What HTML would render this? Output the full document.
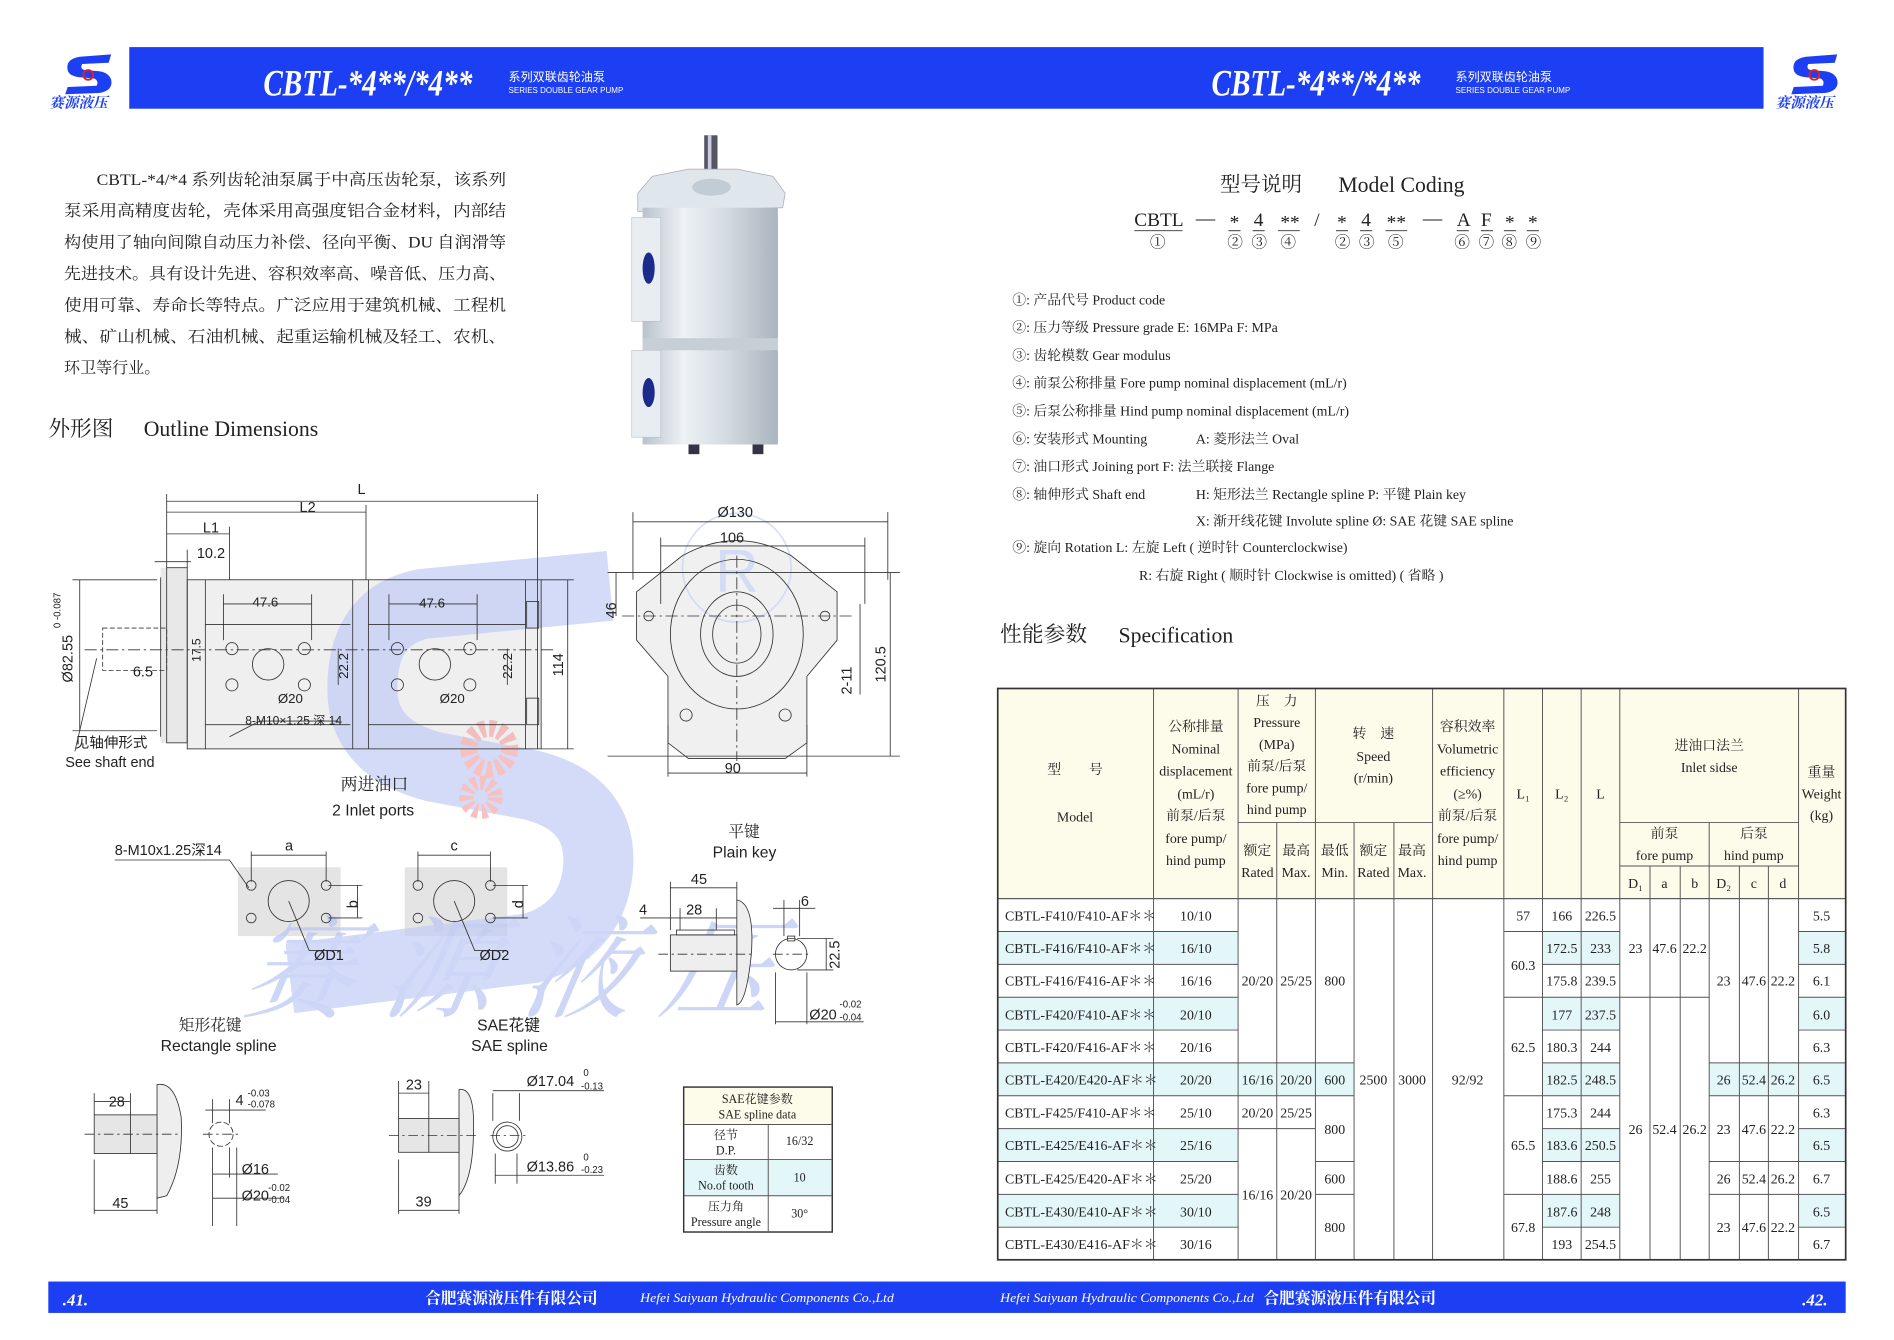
<!DOCTYPE html>
<html><head><meta charset="utf-8"><style>
html,body{margin:0;padding:0;background:#fff}
svg{display:block}
.t{font-family:"Liberation Serif","Noto Serif CJK SC",serif;fill:#222}
.s{font-family:"Liberation Sans","Noto Sans CJK SC",sans-serif;fill:#222}
.d{stroke:#333;stroke-width:.7;fill:none}
.tb text{font-family:"Liberation Serif","Noto Serif CJK SC",serif;font-size:11.5px;fill:#222;text-anchor:middle}
.tb rect{stroke:#555;stroke-width:.8}
</style></head><body>
<svg width="1894" height="1340" viewBox="0 0 1568 1109.4" preserveAspectRatio="none" xmlns="http://www.w3.org/2000/svg">
<defs>
<linearGradient id="pg" x1="0" x2="1"><stop offset="0" stop-color="#b8c2cc"/><stop offset=".3" stop-color="#eef2f5"/><stop offset=".6" stop-color="#d5dce2"/><stop offset="1" stop-color="#aab4be"/></linearGradient>
</defs>
<rect x="107" y="39" width="1353" height="51" fill="#1d3ff3"/>
<g font-family="Liberation Serif,serif" font-style="italic" font-weight="bold" font-size="31" fill="#fff">
<text x="218" y="79" textLength="173" lengthAdjust="spacingAndGlyphs">CBTL-*4**/*4**</text>
<text x="1003" y="79" textLength="173" lengthAdjust="spacingAndGlyphs">CBTL-*4**/*4**</text>
</g>
<g font-family="Liberation Sans,Noto Sans CJK SC,sans-serif" fill="#fff">
<text x="421" y="67" font-size="10">系列双联齿轮油泵</text><text x="421" y="77" font-size="7" textLength="95" lengthAdjust="spacingAndGlyphs">SERIES DOUBLE GEAR PUMP</text>
<text x="1205" y="67" font-size="10">系列双联齿轮油泵</text><text x="1205" y="77" font-size="7" textLength="95" lengthAdjust="spacingAndGlyphs">SERIES DOUBLE GEAR PUMP</text>
</g>
<g id="lg">
<path d="M92 45 L66 47 Q54 49 56 58 Q57 63 66 64 L78 65 Q82 67 80 71 L56 72 L54 78 L82 77 Q94 75 92 66 Q90 60 82 59 L70 58 Q66 57 68 53 L90 52 Z" fill="#1d3ff3"/>
<circle cx="73" cy="62" r="4" fill="none" stroke="#e02020" stroke-width="1.6"/>
<text x="41" y="89" font-size="12" fill="#1d3ff3" font-family="Noto Serif CJK SC,serif" font-style="italic" font-weight="bold">赛源液压</text>
</g>
<use href="#lg" x="1429"/>
<rect x="40" y="1061" width="1488" height="26" fill="#1d3ff3"/>
<g fill="#fff" font-family="Liberation Serif,Noto Serif CJK SC,serif">
<text x="52" y="1081" font-size="14" font-weight="bold" font-style="italic">.41.</text>
<text x="352" y="1079" font-size="13" font-weight="bold">合肥赛源液压件有限公司</text>
<text x="530" y="1078" font-size="10" font-style="italic" textLength="210" lengthAdjust="spacingAndGlyphs">Hefei Saiyuan Hydraulic Components Co.,Ltd</text>
<text x="828" y="1078" font-size="10" font-style="italic" textLength="210" lengthAdjust="spacingAndGlyphs">Hefei Saiyuan Hydraulic Components Co.,Ltd</text>
<text x="1046" y="1079" font-size="13" font-weight="bold">合肥赛源液压件有限公司</text>
<text x="1492" y="1081" font-size="14" font-weight="bold" font-style="italic">.42.</text>
</g>
<g class="t" font-size="13.3">
<text x="80" y="153" textLength="339" lengthAdjust="spacingAndGlyphs">CBTL-*4/*4 系列齿轮油泵属于中高压齿轮泵，该系列</text>
<text x="53" y="179" textLength="366" lengthAdjust="spacingAndGlyphs">泵采用高精度齿轮，壳体采用高强度铝合金材料，内部结</text>
<text x="53" y="205" textLength="366" lengthAdjust="spacingAndGlyphs">构使用了轴向间隙自动压力补偿、径向平衡、DU 自润滑等</text>
<text x="53" y="231" textLength="366" lengthAdjust="spacingAndGlyphs">先进技术。具有设计先进、容积效率高、噪音低、压力高、</text>
<text x="53" y="257" textLength="366" lengthAdjust="spacingAndGlyphs">使用可靠、寿命长等特点。广泛应用于建筑机械、工程机</text>
<text x="53" y="283" textLength="366" lengthAdjust="spacingAndGlyphs">械、矿山机械、石油机械、起重运输机械及轻工、农机、</text>
<text x="53" y="309">环卫等行业。</text>
<text x="40" y="361" font-size="18">外形图</text><text x="119" y="361" font-size="18">Outline Dimensions</text>
</g>
<g>
<rect x="583" y="112" width="11" height="45" fill="#556" /><rect x="586" y="112" width="3" height="45" fill="#ccd"/>
<path d="M528 160 L540 146 L570 140 L610 140 L640 146 L650 160 L648 172 L528 175 Z" fill="#dfe6ec" stroke="#aab" stroke-width=".6"/>
<ellipse cx="589" cy="155" rx="16" ry="7" fill="#c2ccd4"/>
<rect x="532" y="172" width="112" height="196" fill="url(#pg)"/>
<rect x="532" y="280" width="112" height="10" fill="#c6cfd6"/>
<rect x="523" y="180" width="24" height="86" fill="#e8edf1" stroke="#bbc" stroke-width=".5"/>
<rect x="523" y="290" width="24" height="72" fill="#e8edf1" stroke="#bbc" stroke-width=".5"/>
<ellipse cx="537" cy="222" rx="5" ry="13" fill="#1c2a8c"/>
<ellipse cx="537" cy="325" rx="5" ry="12" fill="#1c2a8c"/>
<rect x="570" y="368" width="9" height="8" fill="#334"/><rect x="623" y="368" width="9" height="8" fill="#334"/>
</g>
<g class="t">
<text x="1010" y="158" font-size="17">型号说明</text><text x="1108" y="159" font-size="18">Model Coding</text>
<g font-size="16">
<text x="939" y="187">CBTL</text><text x="990" y="186">—</text><text x="1018" y="189">*</text><text x="1038" y="187">4</text><text x="1060" y="189">**</text><text x="1088" y="187">/</text><text x="1107" y="189">*</text><text x="1127" y="187">4</text><text x="1148" y="189">**</text><text x="1178" y="186">—</text><text x="1206" y="187">A</text><text x="1226" y="187">F</text><text x="1246" y="189">*</text><text x="1265" y="189">*</text>
</g>
<g stroke="#333" stroke-width=".8"><line x1="939" y1="191" x2="979" y2="191"/><line x1="1017" y1="191" x2="1027" y2="191"/><line x1="1037" y1="191" x2="1047" y2="191"/><line x1="1058" y1="191" x2="1076" y2="191"/><line x1="1106" y1="191" x2="1116" y2="191"/><line x1="1126" y1="191" x2="1136" y2="191"/><line x1="1147" y1="191" x2="1165" y2="191"/><line x1="1206" y1="191" x2="1216" y2="191"/><line x1="1226" y1="191" x2="1236" y2="191"/><line x1="1245" y1="191" x2="1255" y2="191"/><line x1="1264" y1="191" x2="1274" y2="191"/></g>
<g font-size="13"><text x="952" y="205">①</text><text x="1016" y="205">②</text><text x="1036" y="205">③</text><text x="1060" y="205">④</text><text x="1105" y="205">②</text><text x="1125" y="205">③</text><text x="1149" y="205">⑤</text><text x="1204" y="205">⑥</text><text x="1224" y="205">⑦</text><text x="1243" y="205">⑧</text><text x="1263" y="205">⑨</text></g>
<g font-size="11.5">
<text x="838" y="252">①: 产品代号  Product code</text>
<text x="838" y="275">②: 压力等级  Pressure grade  E: 16MPa  F:  MPa</text>
<text x="838" y="298">③: 齿轮模数  Gear modulus</text>
<text x="838" y="321">④: 前泵公称排量  Fore pump nominal displacement (mL/r)</text>
<text x="838" y="344">⑤: 后泵公称排量  Hind pump nominal displacement (mL/r)</text>
<text x="838" y="367">⑥: 安装形式  Mounting</text><text x="990" y="367">A: 菱形法兰  Oval</text>
<text x="838" y="390">⑦: 油口形式  Joining port  F: 法兰联接  Flange</text>
<text x="838" y="413">⑧: 轴伸形式  Shaft end</text><text x="990" y="413">H: 矩形法兰  Rectangle spline  P: 平键  Plain key</text>
<text x="990" y="435">X: 渐开线花键  Involute spline     Ø: SAE 花键  SAE spline</text>
<text x="838" y="457">⑨: 旋向  Rotation  L: 左旋  Left ( 逆时针 Counterclockwise)</text>
<text x="943" y="480">R: 右旋  Right ( 顺时针 Clockwise is omitted) ( 省略 )</text>
</g>
<text x="828" y="531" font-size="18">性能参数</text><text x="926" y="532" font-size="18">Specification</text>
</g>
<g class="tb">
<rect x="826" y="570" width="702" height="174" fill="#fdfbea"/>
<g fill="#e4f7f8">
<rect x="826" y="771.2" width="199" height="27.2" style="stroke:none"/><rect x="1277" y="771.2" width="64" height="27.2" style="stroke:none"/><rect x="1489" y="771.2" width="39" height="27.2" style="stroke:none"/>
<rect x="826" y="825.6" width="199" height="27.2" style="stroke:none"/><rect x="1277" y="825.6" width="64" height="27.2" style="stroke:none"/><rect x="1489" y="825.6" width="39" height="27.2" style="stroke:none"/>
<rect x="826" y="880" width="295" height="27.2" style="stroke:none"/><rect x="1277" y="880" width="64" height="27.2" style="stroke:none"/><rect x="1415" y="880" width="113" height="27.2" style="stroke:none"/>
<rect x="826" y="934.4" width="199" height="27.2" style="stroke:none"/><rect x="1277" y="934.4" width="64" height="27.2" style="stroke:none"/><rect x="1489" y="934.4" width="39" height="27.2" style="stroke:none"/>
<rect x="826" y="988.8" width="199" height="27.2" style="stroke:none"/><rect x="1277" y="988.8" width="64" height="27.2" style="stroke:none"/><rect x="1489" y="988.8" width="39" height="27.2" style="stroke:none"/>
</g>
<g stroke="#555" stroke-width=".8">
<path d="M826 744H1528 M826 771.2H1025 M826 798.4H1025 M826 825.6H1025 M826 852.8H1025 M826 880H1025 M826 907.2H1025 M826 934.4H1025 M826 961.6H1025 M826 988.8H1025 M826 1016H1025
M1277 771.2H1341 M1277 798.4H1341 M1277 825.6H1341 M1277 852.8H1341 M1277 880H1341 M1277 907.2H1341 M1277 934.4H1341 M1277 961.6H1341 M1277 988.8H1341 M1277 1016H1341
M1489 771.2H1528 M1489 798.4H1528 M1489 825.6H1528 M1489 852.8H1528 M1489 880H1528 M1489 907.2H1528 M1489 934.4H1528 M1489 961.6H1528 M1489 988.8H1528 M1489 1016H1528
M1025 880H1121 M1025 907.2H1121 M1025 934.4H1089 M1089 961.6H1121 M1089 988.8H1121
M1245 771.2H1277 M1245 825.6H1277 M1245 907.2H1277 M1245 988.8H1277
M1341 825.6H1415 M1415 880H1489 M1415 907.2H1489 M1415 961.6H1489 M1415 988.8H1489
M1025 681H1186 M1341 681H1489 M1341 717H1489"/>
<path d="M955 570V1043 M1025 570V1043 M1057 681V1043 M1089 570V1043 M1121 681V1043 M1154 681V1043 M1186 570V1043 M1245 570V1043 M1277 570V1043 M1309 570V1043 M1341 570V1043 M1366 717V1043 M1391 717V1043 M1415 681V1043 M1440 717V1043 M1464 717V1043 M1489 570V1043"/>
</g>
<rect x="826" y="570" width="702" height="473" fill="none" style="stroke:#333;stroke-width:1.4"/>
<text x="890" y="641">型　　号</text><text x="890" y="680">Model</text>
<text x="990" y="605">公称排量</text><text x="990" y="624">Nominal</text><text x="990" y="642">displacement</text><text x="990" y="661">(mL/r)</text><text x="990" y="679">前泵/后泵</text><text x="990" y="698">fore pump/</text><text x="990" y="716">hind pump</text>
<text x="1057" y="584">压　力</text><text x="1057" y="602">Pressure</text><text x="1057" y="620">(MPa)</text><text x="1057" y="638">前泵/后泵</text><text x="1057" y="656">fore pump/</text><text x="1057" y="674">hind pump</text>
<text x="1041" y="708">额定</text><text x="1041" y="726">Rated</text><text x="1073" y="708">最高</text><text x="1073" y="726">Max.</text>
<text x="1137" y="611">转　速</text><text x="1137" y="630">Speed</text><text x="1137" y="648">(r/min)</text>
<text x="1105" y="708">最低</text><text x="1105" y="726">Min.</text><text x="1137" y="708">额定</text><text x="1137" y="726">Rated</text><text x="1169" y="708">最高</text><text x="1169" y="726">Max.</text>
<text x="1215" y="605">容积效率</text><text x="1215" y="624">Volumetric</text><text x="1215" y="642">efficiency</text><text x="1215" y="661">(≥%)</text><text x="1215" y="679">前泵/后泵</text><text x="1215" y="698">fore pump/</text><text x="1215" y="716">hind pump</text>
<text x="1261" y="661">L₁</text><text x="1293" y="661">L₂</text><text x="1325" y="661">L</text>
<text x="1415" y="621">进油口法兰</text><text x="1415" y="639">Inlet sidse</text>
<text x="1378" y="694">前泵</text><text x="1378" y="712">fore pump</text><text x="1452" y="694">后泵</text><text x="1452" y="712">hind pump</text>
<text x="1354" y="735">D₁</text><text x="1378" y="735">a</text><text x="1403" y="735">b</text><text x="1427" y="735">D₂</text><text x="1452" y="735">c</text><text x="1476" y="735">d</text>
<text x="1508" y="643">重量</text><text x="1508" y="661">Weight</text><text x="1508" y="679">(kg)</text>
<g><text x="832" y="762" style="text-anchor:start">CBTL-F410/F410-AF＊＊</text><text x="832" y="789" style="text-anchor:start">CBTL-F416/F410-AF＊＊</text><text x="832" y="816" style="text-anchor:start">CBTL-F416/F416-AF＊＊</text><text x="832" y="844" style="text-anchor:start">CBTL-F420/F410-AF＊＊</text><text x="832" y="871" style="text-anchor:start">CBTL-F420/F416-AF＊＊</text><text x="832" y="898" style="text-anchor:start">CBTL-E420/E420-AF＊＊</text><text x="832" y="925" style="text-anchor:start">CBTL-F425/F410-AF＊＊</text><text x="832" y="952" style="text-anchor:start">CBTL-E425/E416-AF＊＊</text><text x="832" y="980" style="text-anchor:start">CBTL-E425/E420-AF＊＊</text><text x="832" y="1007" style="text-anchor:start">CBTL-E430/E410-AF＊＊</text><text x="832" y="1034" style="text-anchor:start">CBTL-E430/E416-AF＊＊</text></g>
<text x="990" y="762">10/10</text><text x="990" y="789">16/10</text><text x="990" y="816">16/16</text><text x="990" y="844">20/10</text><text x="990" y="871">20/16</text><text x="990" y="898">20/20</text><text x="990" y="925">25/10</text><text x="990" y="952">25/16</text><text x="990" y="980">25/20</text><text x="990" y="1007">30/10</text><text x="990" y="1034">30/16</text>
<text x="1293" y="762">166</text><text x="1293" y="789">172.5</text><text x="1293" y="816">175.8</text><text x="1293" y="844">177</text><text x="1293" y="871">180.3</text><text x="1293" y="898">182.5</text><text x="1293" y="925">175.3</text><text x="1293" y="952">183.6</text><text x="1293" y="980">188.6</text><text x="1293" y="1007">187.6</text><text x="1293" y="1034">193</text>
<text x="1325" y="762">226.5</text><text x="1325" y="789">233</text><text x="1325" y="816">239.5</text><text x="1325" y="844">237.5</text><text x="1325" y="871">244</text><text x="1325" y="898">248.5</text><text x="1325" y="925">244</text><text x="1325" y="952">250.5</text><text x="1325" y="980">255</text><text x="1325" y="1007">248</text><text x="1325" y="1034">254.5</text>
<text x="1508" y="762">5.5</text><text x="1508" y="789">5.8</text><text x="1508" y="816">6.1</text><text x="1508" y="844">6.0</text><text x="1508" y="871">6.3</text><text x="1508" y="898">6.5</text><text x="1508" y="925">6.3</text><text x="1508" y="952">6.5</text><text x="1508" y="980">6.7</text><text x="1508" y="1007">6.5</text><text x="1508" y="1034">6.7</text>
<text x="1041" y="816">20/20</text><text x="1041" y="898">16/16</text><text x="1041" y="925">20/20</text><text x="1041" y="993">16/16</text>
<text x="1073" y="816">25/25</text><text x="1073" y="898">20/20</text><text x="1073" y="925">25/25</text><text x="1073" y="993">20/20</text>
<text x="1105" y="816">800</text><text x="1105" y="898">600</text><text x="1105" y="939">800</text><text x="1105" y="980">600</text><text x="1105" y="1020">800</text>
<text x="1137" y="898">2500</text><text x="1169" y="898">3000</text><text x="1215" y="898">92/92</text>
<text x="1261" y="762">57</text><text x="1261" y="803">60.3</text><text x="1261" y="871">62.5</text><text x="1261" y="952">65.5</text><text x="1261" y="1020">67.8</text>
<text x="1354" y="789">23</text><text x="1378" y="789">47.6</text><text x="1403" y="789">22.2</text>
<text x="1354" y="939">26</text><text x="1378" y="939">52.4</text><text x="1403" y="939">26.2</text>
<text x="1427" y="816">23</text><text x="1452" y="816">47.6</text><text x="1476" y="816">22.2</text>
<text x="1427" y="898">26</text><text x="1452" y="898">52.4</text><text x="1476" y="898">26.2</text>
<text x="1427" y="939">23</text><text x="1452" y="939">47.6</text><text x="1476" y="939">22.2</text>
<text x="1427" y="980">26</text><text x="1452" y="980">52.4</text><text x="1476" y="980">26.2</text>
<text x="1427" y="1020">23</text><text x="1452" y="1020">47.6</text><text x="1476" y="1020">22.2</text>
</g>

<rect x="155" y="480" width="293" height="140" fill="#efefef"/>
<rect x="133" y="470" width="22" height="145" fill="#e8e8e8"/>
<rect x="197" y="718" width="85" height="57" fill="#e4e4e4"/>
<rect x="335" y="718" width="85" height="57" fill="#e4e4e4"/>
<path d="M527 490 L565 460 Q610 435 655 460 L693 490 L693 530 L668 560 L668 615 L650 628 L570 628 L553 615 L553 560 L527 530 Z" fill="#f0f0f0"/>
<g opacity=".7">
<path d="M505 485 L350 500 Q300 510 300 570 Q300 620 360 635 L440 650 Q500 665 495 720 Q490 770 440 785 L240 810" fill="none" stroke="#c2ccf6" stroke-width="58"/>
<circle cx="405" cy="620" r="17" fill="none" stroke="#f4a8a8" stroke-width="14" stroke-dasharray="5 3"/>
<circle cx="398" cy="660" r="12" fill="none" stroke="#f4a8a8" stroke-width="12" stroke-dasharray="4 3"/>
<text x="195" y="835" font-size="92" fill="#b9c5f5" font-family="Noto Serif CJK SC,serif" font-style="italic" transform="skewX(-10) translate(150 0)">赛 源 液 压</text>
<circle cx="610" cy="470" r="45" fill="none" stroke="#c9d3f6" stroke-width="1.5"/>
<text x="592" y="490" font-size="50" fill="#c9d3f6" font-family="Liberation Sans,sans-serif">R</text>
</g>
<g class="d">
<rect x="155" y="480" width="293" height="140"/><rect x="138" y="470" width="17" height="145"/><path d="M133 478 V610"/>
<rect x="85" y="520" width="53" height="35" stroke-dasharray="4 2"/>
<path d="M170 480V620 M292 480V620 M305 480V620 M435 480V620 M170 517H290 M170 600H290 M305 517H435 M305 600H435"/>
<circle cx="222" cy="550" r="13"/><circle cx="360" cy="550" r="13"/>
<circle cx="192" cy="537" r="5"/><circle cx="252" cy="537" r="5"/><circle cx="192" cy="567" r="5"/><circle cx="252" cy="567" r="5"/>
<circle cx="329" cy="537" r="5"/><circle cx="389" cy="537" r="5"/><circle cx="329" cy="567" r="5"/><circle cx="389" cy="567" r="5"/>
<path d="M70 538H460" stroke-dasharray="10 3 2 3"/>
<rect x="436" y="498" width="10" height="22"/><rect x="436" y="578" width="10" height="22"/>
<path d="M138 409V470 M445 409V620 M303 418V480 M190 436V480 M138 415H445 M138 424H303 M138 442H190 M128 465H158 M155 455V470 M60 480H130 M60 605H130 M66 480V605 M448 480H475 M448 620H475 M470 480V620"/>
<path d="M185 500H258 M322 500H395 M185 492V530 M258 492V530 M322 492V530 M395 492V530 M280 537V567 M420 537V567"/>
<path d="M62 622 L80 545 M190 610 L215 597 L280 597"/>
</g>
<g class="s" font-size="12">
<text x="296" y="409">L</text><text x="248" y="424">L2</text><text x="168" y="441">L1</text><text x="163" y="462">10.2</text>
<text x="209" y="502" font-size="11">47.6</text><text x="347" y="503" font-size="11">47.6</text>
<text x="110" y="560">6.5</text><text x="230" y="582" font-size="11">Ø20</text><text x="364" y="582" font-size="11">Ø20</text>
<text x="203" y="600" font-size="10">8-M10×1.25 深 14</text>
<text transform="translate(60 565) rotate(-90)" font-size="12">Ø82.55</text><text transform="translate(50 520) rotate(-90)" font-size="8">0  -0.087</text>
<text transform="translate(166 548) rotate(-90)" font-size="10">17.5</text>
<text transform="translate(288 562) rotate(-90)" font-size="11">22.2</text><text transform="translate(424 562) rotate(-90)" font-size="11">22.2</text>
<text transform="translate(466 560) rotate(-90)">114</text>
<text x="62" y="619" font-size="12">见轴伸形式</text><text x="54" y="635" font-size="12">See shaft end</text>
<text x="282" y="654" font-size="14" class="t">两进油口</text><text x="275" y="675" font-size="13">2 Inlet ports</text>
</g>
<g class="d">
<path d="M527 490 L565 460 Q610 435 655 460 L693 490 L693 530 L668 560 L668 615 L650 628 L570 628 L553 615 L553 560 L527 530 Z"/>
<ellipse cx="610" cy="525" rx="55" ry="62"/><ellipse cx="610" cy="525" rx="30" ry="35"/><ellipse cx="610" cy="525" rx="20" ry="24"/>
<circle cx="568" cy="592" r="5"/><circle cx="650" cy="592" r="5"/><circle cx="537" cy="510" r="4"/><circle cx="683" cy="510" r="4"/>
<path d="M515 510H705 M610 460V630" stroke-dasharray="10 3 2 3"/>
<path d="M524 424V480 M735 424V480 M524 432H735 M547 445V500 M716 445V500 M547 452H716 M503 474H745 M510 474V510 M503 626H745 M737 474V626 M553 600V643 M668 600V643 M553 640H668 M712 500V575"/>
</g>
<g class="s" font-size="12">
<text x="594" y="428">Ø130</text><text x="596" y="449">106</text><text x="600" y="640">90</text>
<text transform="translate(510 512) rotate(-90)">46</text><text transform="translate(733 565) rotate(-90)">120.5</text><text transform="translate(705 575) rotate(-90)">2-11</text>
</g>
<g class="d">
<circle cx="239" cy="746" r="17"/><circle cx="208" cy="733" r="4"/><circle cx="270" cy="733" r="4"/><circle cx="208" cy="760" r="4"/><circle cx="270" cy="760" r="4"/>
<circle cx="376" cy="746" r="17"/><circle cx="346" cy="733" r="4"/><circle cx="406" cy="733" r="4"/><circle cx="346" cy="760" r="4"/><circle cx="406" cy="760" r="4"/>
<path d="M208 705V730 M270 705V730 M208 708H270 M346 705V730 M406 705V730 M346 708H406 M272 733H300 M272 760H300 M296 733V760 M408 733H437 M408 760H437 M433 733V760 M95 712H190 L206 735 M239 746 L256 787 H282 M376 746 L393 787 H418"/>
</g>
<g class="s" font-size="12">
<text x="95" y="708">8-M10x1.25深14</text><text x="236" y="704">a</text><text x="373" y="704">c</text>
<text transform="translate(296 752) rotate(-90)">b</text><text transform="translate(433 752) rotate(-90)">d</text>
<text x="260" y="795">ØD1</text><text x="397" y="795">ØD2</text>
<text x="148" y="853" class="t" font-size="13">矩形花键</text><text x="133" y="870" font-size="13">Rectangle spline</text>
<text x="395" y="853" font-size="13">SAE花键</text><text x="390" y="870" font-size="13">SAE spline</text>
</g>
<g class="d">
<path d="M610 745 Q625 748 622 790 Q618 830 610 832 Z" fill="#eee"/>
<rect x="555" y="774" width="55" height="30" fill="#eee"/><rect x="560" y="770" width="48" height="4"/>
<circle cx="655" cy="790" r="13"/><rect x="652" y="775" width="6" height="4"/>
<path d="M545 790H625 M640 790H672" stroke-dasharray="8 3 2 3"/>
<path d="M555 730V770 M610 730V745 M555 735H610 M530 760H610 M563 752V770 M593 752V770 M649 745V775 M662 745V775 M640 752H675 M660 777H690 M660 803H690 M684 777V803 M642 805V848 M668 805V848 M642 846H715"/>
</g>
<g class="s" font-size="12">
<text x="603" y="693" class="t" font-size="13">平键</text><text x="590" y="710" font-size="13">Plain key</text>
<text x="572" y="732">45</text><text x="529" y="757">4</text><text x="568" y="757">28</text><text x="663" y="750">6</text>
<text transform="translate(695 802) rotate(-90)">22.5</text>
<text x="670" y="844">Ø20</text><text x="695" y="834" font-size="8">-0.02</text><text x="695" y="845" font-size="8">-0.04</text>
</g>
<g class="d">
<path d="M130 898 Q145 895 150 925 Q152 965 138 990 L130 992 Z" fill="#eee"/>
<rect x="78" y="923" width="52" height="32" fill="#e6e6e6"/><path d="M108 923V955"/>
<circle cx="183" cy="939" r="10" stroke-dasharray="5 2"/>
<path d="M70 939H150 M168 939H200" stroke-dasharray="8 3 2 3"/>
<path d="M78 905V923 M108 905V923 M78 912H108 M78 960V1005 M130 990V1005 M78 1002H130 M176 910V930 M190 910V930 M170 919H220 M176 950V1015 M190 950V975 M176 972H230 M196 950V1015 M176 992H235"/>
</g>
<g class="s" font-size="12">
<text x="90" y="916">28</text><text x="93" y="1000">45</text>
<text x="195" y="915">4</text><text x="205" y="908" font-size="8">-0.03</text><text x="205" y="917" font-size="8">-0.078</text>
<text x="200" y="972">Ø16</text><text x="200" y="994">Ø20</text><text x="222" y="986" font-size="8">-0.02</text><text x="222" y="996" font-size="8">-0.04</text>
</g>
<g class="d">
<path d="M380 902 Q393 900 392 935 Q392 975 380 990 Z" fill="#eee"/>
<rect x="330" y="926" width="50" height="28" fill="#e6e6e6"/><path d="M355 926V954"/>
<circle cx="420" cy="941" r="12"/><circle cx="420" cy="941" r="9"/>
<path d="M322 940H395 M406 940H435" stroke-dasharray="8 3 2 3"/>
<path d="M330 895V926 M355 895V926 M330 905H355 M330 960V1005 M380 990V1005 M330 1002H380 M408 905V928 M430 905V928 M408 903H500 M410 955V980 M428 955V980 M410 973H500"/>
</g>
<g class="s" font-size="12">
<text x="336" y="902">23</text><text x="344" y="999">39</text>
<text x="436" y="899">Ø17.04</text><text x="483" y="891" font-size="8">0</text><text x="481" y="902" font-size="8">-0.13</text>
<text x="436" y="970">Ø13.86</text><text x="483" y="961" font-size="8">0</text><text x="481" y="971" font-size="8">-0.23</text>
</g>
<g>
<rect x="566" y="900" width="123" height="31" fill="#fdfbea"/><rect x="566" y="960" width="123" height="30" fill="#e4f7f8"/>
<rect x="566" y="900" width="123" height="120" fill="none" stroke="#333" stroke-width="1.2"/>
<path d="M566 931H689 M566 960H689 M566 990H689 M636 931V1020" stroke="#555" stroke-width=".8"/>
<g class="t" font-size="10" text-anchor="middle">
<text x="627" y="913">SAE花键参数</text><text x="627" y="926">SAE spline data</text>
<text x="601" y="943">径节</text><text x="601" y="956">D.P.</text><text x="662" y="948">16/32</text>
<text x="601" y="972">齿数</text><text x="601" y="985">No.of tooth</text><text x="662" y="978">10</text>
<text x="601" y="1002">压力角</text><text x="601" y="1015">Pressure angle</text><text x="662" y="1008">30°</text>
</g>
</g>
</svg>
</body></html>
